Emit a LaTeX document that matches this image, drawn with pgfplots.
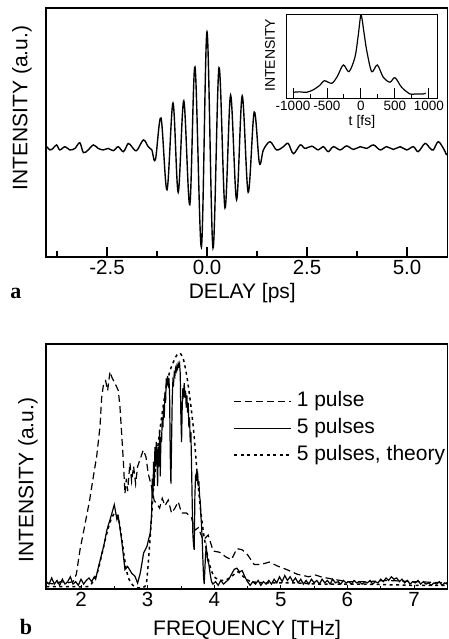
\documentclass[border=0pt]{standalone}
\usepackage{pgfplots}
\pgfplotsset{compat=1.18}
\usepackage{fontspec}
\setmainfont{Liberation Sans}
\newfontfamily\seriffont{Liberation Serif}
\pgfplotstableread{
x y
-4.00 0.443
-3.93 0.430
-3.85 0.436
-3.76 0.450
-3.68 0.430
-3.55 0.443
-3.43 0.430
-3.30 0.436
-3.18 0.459
-3.09 0.419
-2.97 0.430
-2.84 0.450
-2.72 0.436
-2.59 0.430
-2.47 0.436
-2.34 0.427
-2.22 0.443
-2.09 0.423
-1.97 0.456
-1.88 0.443
-1.76 0.427
-1.59 0.470
-1.47 0.443
-1.38 0.430
-1.29 0.390
-1.15 0.558
-1.00 0.270
-0.85 0.618
-0.72 0.260
-0.58 0.627
-0.43 0.210
-0.30 0.763
-0.14 0.040
0.00 0.904
0.15 0.036
0.30 0.760
0.45 0.197
0.59 0.650
0.74 0.230
0.88 0.647
1.03 0.260
1.18 0.582
1.31 0.377
1.41 0.430
1.575 0.463
1.74 0.430
1.91 0.443
2.03 0.456
2.16 0.415
2.33 0.450
2.45 0.436
2.62 0.445
2.78 0.430
2.91 0.443
3.03 0.423
3.16 0.443
3.33 0.430
3.49 0.446
3.66 0.432
3.83 0.443
3.99 0.436
4.16 0.450
4.33 0.430
4.49 0.443
4.66 0.432
4.83 0.443
4.99 0.430
5.16 0.443
5.28 0.423
5.45 0.456
5.58 0.436
5.66 0.430
5.78 0.463
5.91 0.436
5.99 0.409
}\delay
\pgfplotstableread{
x y
-1000 0.08
-900 0.085
-800 0.08
-700 0.11
-600 0.167
-540 0.218
-430 0.187
-350 0.266
-260 0.405
-176 0.325
-88 0.50
-40 0.76
0 1.0
44 0.79
83 0.583
157 0.325
240 0.405
328 0.258
426 0.20
500 0.254
598 0.139
720 0.06
800 0.06
916 0.06
950 0.07
}\inset
\pgfplotstableread{
x y
1.48 0.025
1.60 0.020
1.70 0.030
1.80 0.025
1.88 0.030
1.93 0.060
1.985 0.16
2.05 0.25
2.13 0.363
2.18 0.45
2.235 0.54
2.285 0.662
2.31 0.78
2.34 0.84
2.37 0.85
2.40 0.81
2.435 0.887
2.47 0.86
2.51 0.84
2.56 0.81
2.585 0.744
2.61 0.636
2.635 0.526
2.66 0.39
2.68 0.45
2.70 0.40
2.735 0.514
2.76 0.44
2.79 0.50
2.82 0.43
2.85 0.50
2.885 0.527
2.935 0.567
2.975 0.54
3.01 0.47
3.06 0.417
3.10 0.36
3.135 0.35
3.18 0.33
3.22 0.37
3.26 0.34
3.31 0.363
3.36 0.31
3.41 0.33
3.46 0.356
3.51 0.31
3.585 0.31
3.66 0.29
3.71 0.24
3.76 0.25
3.835 0.20
3.91 0.22
3.985 0.155
4.08 0.15
4.18 0.13
4.26 0.12
4.34 0.165
4.42 0.16
4.50 0.14
4.60 0.10
4.70 0.10
4.83 0.11
4.94 0.095
5.10 0.078
5.25 0.06
5.42 0.05
5.52 0.057
5.60 0.05
5.78 0.04
6.00 0.03
6.30 0.03
6.60 0.035
7.00 0.03
7.50 0.025
}\onepulse
\pgfplotstableread{
x y
1.48 0.03
1.52 0.02
1.56 0.045
1.60 0.02
1.64 0.035
1.68 0.015
1.72 0.04
1.76 0.02
1.80 0.03
1.84 0.05
1.88 0.02
1.92 0.03
1.96 0.015
2.00 0.04
2.04 0.02
2.08 0.035
2.12 0.045
2.16 0.03
2.20 0.05
2.22 0.04
2.24 0.065
2.29 0.12
2.34 0.174
2.39 0.242
2.45 0.296
2.50 0.344
2.54 0.283
2.56 0.296
2.61 0.20
2.66 0.079
2.70 0.092
2.76 0.065
2.81 0.052
2.85 0.024
2.89 0.065
2.94 0.147
2.99 0.174
3.04 0.23
3.06 0.30
3.07 0.45
3.08 0.38
3.09 0.52
3.10 0.42
3.11 0.58
3.12 0.50
3.13 0.60
3.14 0.55
3.15 0.42
3.16 0.58
3.17 0.50
3.18 0.65
3.19 0.46
3.20 0.62
3.21 0.60
3.22 0.70
3.23 0.66
3.24 0.75
3.25 0.70
3.26 0.80
3.27 0.76
3.28 0.86
3.29 0.83
3.30 0.87
3.31 0.84
3.32 0.86
3.33 0.80
3.34 0.55
3.35 0.43
3.36 0.60
3.37 0.78
3.38 0.85
3.39 0.84
3.40 0.88
3.41 0.87
3.42 0.90
3.43 0.89
3.44 0.91
3.45 0.90
3.46 0.92
3.47 0.91
3.48 0.92
3.49 0.88
3.50 0.70
3.51 0.60
3.52 0.75
3.53 0.82
3.54 0.80
3.55 0.84
3.56 0.78
3.57 0.81
3.58 0.74
3.59 0.79
3.60 0.72
3.61 0.76
3.62 0.66
3.63 0.70
3.64 0.60
3.65 0.64
3.66 0.50
3.67 0.35
3.68 0.22
3.69 0.18
3.70 0.16
3.71 0.38
3.72 0.46
3.73 0.47
3.74 0.44
3.75 0.48
3.76 0.42
3.77 0.44
3.78 0.38
3.79 0.36
3.80 0.30
3.81 0.26
3.82 0.20
3.83 0.12
3.84 0.05
3.85 0.02
3.86 0.08
3.87 0.14
3.88 0.17
3.89 0.15
3.90 0.12
3.92 0.10
3.94 0.06
3.96 0.03
3.98 0.02
4.02 0.03
4.06 0.015
4.10 0.035
4.14 0.02
4.18 0.03
4.22 0.04
4.26 0.06
4.30 0.08
4.34 0.085
4.38 0.07
4.42 0.075
4.46 0.05
4.50 0.03
4.54 0.015
4.58 0.03
4.62 0.02
4.66 0.035
4.70 0.015
4.74 0.03
4.78 0.02
4.82 0.035
4.86 0.02
4.90 0.04
4.94 0.025
4.98 0.05
5.02 0.03
5.06 0.055
5.10 0.035
5.14 0.05
5.18 0.03
5.22 0.045
5.26 0.025
5.30 0.04
5.34 0.02
5.38 0.035
5.42 0.02
5.46 0.04
5.50 0.025
5.54 0.035
5.58 0.02
5.62 0.04
5.66 0.025
5.70 0.035
5.74 0.02
5.78 0.04
5.82 0.025
5.86 0.03
5.90 0.02
5.94 0.035
5.98 0.025
6.02 0.03
6.06 0.02
6.10 0.035
6.14 0.025
6.18 0.03
6.22 0.02
6.26 0.03
6.30 0.025
6.34 0.035
6.38 0.02
6.42 0.03
6.46 0.025
6.50 0.04
6.54 0.03
6.58 0.045
6.62 0.035
6.66 0.05
6.70 0.04
6.74 0.045
6.78 0.03
6.82 0.04
6.86 0.025
6.90 0.035
6.94 0.02
6.98 0.03
7.02 0.025
7.06 0.035
7.10 0.02
7.14 0.03
7.18 0.02
7.22 0.025
7.26 0.015
7.30 0.025
7.34 0.02
7.38 0.03
7.42 0.015
7.46 0.025
7.50 0.02
}\fivepulse
\pgfplotstableread{
x y
1.48 0.01
1.80 0.01
2.10 0.01
2.18 0.03
2.25 0.07
2.32 0.15
2.40 0.24
2.46 0.29
2.51 0.31
2.56 0.29
2.60 0.23
2.64 0.15
2.68 0.08
2.72 0.04
2.78 0.015
2.85 0.005
2.92 0.005
2.96 0.01
2.99 0.04
3.04 0.215
3.09 0.418
3.14 0.55
3.19 0.66
3.24 0.758
3.29 0.84
3.34 0.894
3.39 0.928
3.44 0.955
3.49 0.962
3.54 0.935
3.59 0.867
3.64 0.77
3.69 0.65
3.74 0.486
3.79 0.337
3.84 0.228
3.89 0.15
3.94 0.09
4.00 0.05
4.10 0.035
4.20 0.04
4.30 0.06
4.36 0.07
4.44 0.05
4.55 0.03
4.80 0.025
5.20 0.025
5.60 0.02
6.20 0.02
7.00 0.015
7.50 0.015
}\theory
\begin{document}
\begin{tikzpicture}
\path[use as bounding box] (0,0) rectangle (448pt,639pt);
% ---------- panel a ----------
\begin{axis}[
  at={(46pt,382pt)}, anchor=south west,
  scale only axis, width=401.5pt, height=249pt,
  xmin=-4.025, xmax=6.0125, ymin=0, ymax=1,
  axis line style={line width=1.1pt},
  xtick={-2.5,0,2.5,5}, xticklabels={-2.5,0.0,2.5,5.0},
  minor xtick={-3.75,-1.25,1.25,3.75},
  ytick=\empty,
  xtick pos=bottom, tick align=inside,
  major tick length=10pt, minor tick length=6pt,
  every tick/.style={line width=1.1pt, black},
  tick label style={font=\fontsize{20.5}{24}\selectfont},
  xlabel={DELAY [ps]},
  ylabel={INTENSITY (a.u.)},
  label style={font=\fontsize{21}{25}\selectfont},
  xlabel style={at={(axis description cs:0.489,-0.145)}, anchor=center},
  ylabel style={at={(axis description cs:-0.06,0.598)}, anchor=center},
  clip mode=individual,
]
\addplot[black, line width=1.4pt, smooth, tension=0.55] table[x=x,y=y] {\delay};
\node[font=\seriffont\bfseries\fontsize{22}{26}\selectfont] at (axis description cs:-0.075,-0.145) {a};
\end{axis}
% ---------- inset ----------
\begin{axis}[
  at={(286pt,540pt)}, anchor=south west,
  scale only axis, width=151pt, height=84pt,
  xmin=-1103, xmax=1118, ymin=0, ymax=1,
  axis background/.style={fill=white},
  axis line style={line width=1.0pt},
  xtick={-1000,-500,0,500,1000}, xticklabels={-1000,-500,0,500,1000},
  minor xtick={-750,-250,250,750},
  ytick=\empty,
  xtick pos=bottom, tick align=inside,
  major tick length=11pt, minor tick length=4.5pt,
  every tick/.style={line width=1.0pt, black},
  tick label style={font=\fontsize{13.5}{16}\selectfont, inner sep=2pt},
  xlabel={t [fs]}, ylabel={INTENSITY},
  label style={font=\fontsize{14}{16}\selectfont},
  xlabel style={at={(axis description cs:0.503,-0.27)}, anchor=center},
  ylabel style={at={(axis description cs:-0.106,0.52)}, anchor=center},
]
\addplot[black, line width=1.2pt, smooth, tension=0.5] table[x=x,y=y] {\inset};
\end{axis}
% ---------- panel b ----------
\begin{axis}[
  at={(46pt,50pt)}, anchor=south west,
  scale only axis, width=401.5pt, height=245pt,
  xmin=1.4745, xmax=7.503, ymin=0, ymax=1,
  axis line style={line width=1.1pt},
  xtick={2,3,4,5,6,7},
  minor xtick={2.5,3.5,4.5,5.5,6.5},
  ytick=\empty,
  xtick pos=bottom, tick align=inside,
  major tick length=4pt, minor tick length=3pt,
  every tick/.style={line width=0.8pt, black},
  tick label style={font=\fontsize{20.5}{24}\selectfont},
  /pgf/number format/assume math mode=true,
  xlabel={FREQUENCY [THz]},
  ylabel={INTENSITY (a.u.)},
  label style={font=\fontsize{21}{25}\selectfont},
  xlabel style={at={(axis description cs:0.501,-0.167)}, anchor=center},
  ylabel style={at={(axis description cs:-0.045,0.445)}, anchor=center},
  clip mode=individual,
  legend cell align=left,
  legend style={at={(axis description cs:0.466,0.808)}, anchor=north west,
    draw=none, fill=none, inner sep=0pt,
    font=\fontsize{21}{25}\selectfont,
    row sep=7pt,
    nodes={inner sep=0pt, text height=15pt, text depth=5pt},
    /tikz/every odd column/.append style={column sep=5pt}},
  legend image code/.code={\draw[#1] (0pt,0pt) -- (57pt,0pt);},
]
\addplot[black, line width=1.2pt, dash pattern=on 7pt off 4pt] table[x=x,y=y] {\onepulse};
\addlegendentry{1 pulse}
\addplot[black, line width=1.2pt] table[x=x,y=y] {\fivepulse};
\addlegendentry{5 pulses}
\addplot[black, line width=1.5pt, dash pattern=on 3pt off 3.5pt, smooth, tension=0.4] table[x=x,y=y] {\theory};
\addlegendentry{5 pulses, theory}
\node[font=\seriffont\bfseries\fontsize{22}{26}\selectfont] at (axis description cs:-0.05,-0.155) {b};
\end{axis}
\end{tikzpicture}
\end{document}
